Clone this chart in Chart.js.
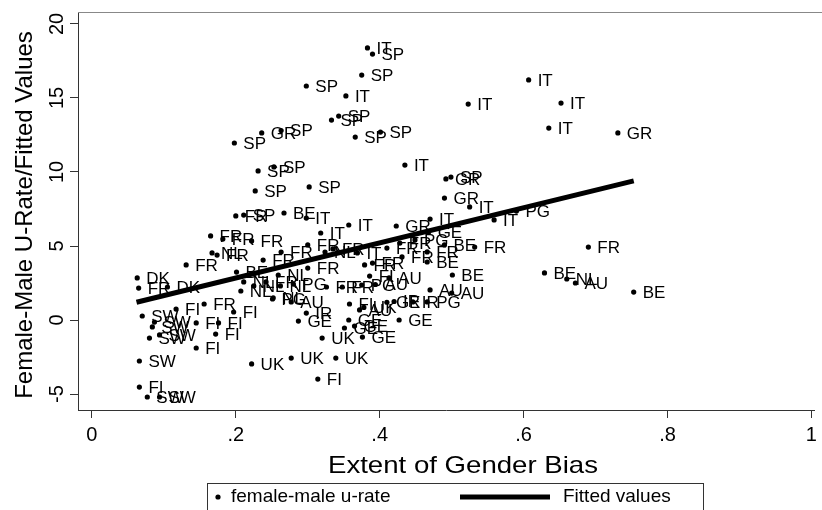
<!DOCTYPE html>
<html>
<head>
<meta charset="utf-8">
<script src="https://cdn.jsdelivr.net/npm/chart.js@4.4.1/dist/chart.umd.min.js"></script>
<style>
  html, body { margin: 0; padding: 0; background: #fff; }
  #wrap { width: 822px; height: 510px; }
</style>
</head>
<body>
<div id="wrap"><canvas id="biasChart" width="822" height="510"></canvas></div>
<script>
// one entry per country-period observation
const countries = [
  'IT','SP','SP','SP','IT','IT','IT','IT','IT','GR',
  'SP','SP','SP','SP','GR','SP','SP','IT','SP','SP',
  'SP','SP','GR','SP','GR','IT','PG','IT','FR','SP',
  'BE','IT','IT','IT','GR','IT','BE','FR','FR','BE',
  'BE','NL','AU','BE','AU','AU','FR','FR','FR','NL',
  'FR','FR','DK','FR','DK','BE','SW','FI','FR','FI',
  'SW','SW','SW','SW','FI','FI','FI','FI','SW','FI',
  'SW','SW','UK','UK','UK','FI','UK','GE','GE','GE',
  'GE','GE','GE','IR','PG','AU','FR','FR','FR','NL',
  'FR','FI','AU','FR','FR','PG','AU','FI','AU','UK',
  'IR','PG','PG','GE','FR','FR','FR','BE','FR','FR',
  'FR','IT','NL','FR','NL','NL','NL','FR','NL','NL',
  'PG','GE','IR'
];
const genderBias = [
  0.383, 0.390, 0.375, 0.298, 0.353, 0.523, 0.607, 0.652, 0.635, 0.731,
  0.333, 0.343, 0.366, 0.401, 0.236, 0.263, 0.198, 0.435, 0.231, 0.253,
  0.227, 0.302, 0.492, 0.499, 0.490, 0.525, 0.590, 0.559, 0.200, 0.211,
  0.267, 0.298, 0.318, 0.357, 0.423, 0.470, 0.490, 0.532, 0.690, 0.501,
  0.629, 0.660, 0.672, 0.753, 0.500, 0.470, 0.165, 0.182, 0.222, 0.167,
  0.174, 0.131, 0.063, 0.065, 0.105, 0.201, 0.070, 0.117, 0.156, 0.197,
  0.084, 0.080, 0.094, 0.087, 0.145, 0.176, 0.172, 0.145, 0.066, 0.066,
  0.077, 0.094, 0.222, 0.277, 0.339, 0.314, 0.320, 0.376, 0.287, 0.357,
  0.351, 0.365, 0.427, 0.298, 0.251, 0.277, 0.263, 0.238, 0.300, 0.259,
  0.300, 0.386, 0.413, 0.326, 0.348, 0.375, 0.394, 0.358, 0.372, 0.378,
  0.446, 0.466, 0.449, 0.468, 0.410, 0.428, 0.431, 0.466, 0.466, 0.379,
  0.390, 0.369, 0.324, 0.335, 0.207, 0.211, 0.225, 0.242, 0.252, 0.262,
  0.280, 0.410, 0.420
];
const uRateGap = [
  18.38, 17.97, 16.55, 15.81, 15.14, 14.59, 16.22, 14.66, 12.97, 12.64,
  13.51, 13.78, 12.36, 12.70, 12.64, 12.80, 11.96, 10.47, 10.07, 10.34,
  8.72, 8.99, 9.53, 9.66, 8.24, 7.64, 7.36, 6.76, 7.03, 7.09,
  7.23, 6.89, 5.88, 6.42, 6.35, 6.82, 5.07, 4.93, 4.93, 3.04,
  3.18, 2.77, 2.50, 1.89, 1.82, 2.03, 5.68, 5.47, 5.34, 4.53,
  4.39, 3.72, 2.84, 2.16, 2.23, 3.24, 0.27, 0.74, 1.08, 0.54,
  -0.47, -1.22, -1.01, -0.14, -0.20, -0.20, -0.95, -1.89, -2.77, -4.53,
  -5.20, -5.20, -2.97, -2.57, -2.57, -3.99, -1.22, -1.15, -0.07, 0.00,
  -0.54, -0.41, 0.00, 0.47, 1.42, 1.22, 4.59, 4.05, 5.07, 3.04,
  3.51, 2.97, 2.84, 2.23, 2.23, 2.36, 2.40, 1.08, 0.68, 0.85,
  1.22, 1.22, 5.41, 5.95, 4.86, 5.20, 4.26, 3.92, 4.60, 3.72,
  3.85, 4.53, 4.59, 4.80, 1.96, 2.57, 2.30, 2.57, 1.49, 2.30,
  2.43, 1.20, 1.25
];
// fitted line, read at its two ends
const fitBias = [0.062, 0.753];
const fitValues = [1.2, 9.4];

const xTicks = [0, 0.2, 0.4, 0.6, 0.8, 1];
const yTicks = [-5, 0, 5, 10, 15, 20];

const FONT = '"Liberation Sans", Arial, Helvetica, sans-serif';

const pointLabels = {
  id: 'pointLabels',
  afterDatasetDraw(chart, args) {
    if (args.index !== 1) return;
    const ctx = chart.ctx;
    ctx.save();
    ctx.font = '17px ' + FONT;
    ctx.fillStyle = '#000';
    ctx.textBaseline = 'middle';
    args.meta.data.forEach((pt, i) => {
      ctx.fillText(countries[i], pt.x + 9, pt.y + 1);
    });
    ctx.restore();
  }
};

const frameExtras = {
  id: 'frameExtras',
  afterDraw(chart) {
    const ctx = chart.ctx;
    const yScale = chart.scales.y;
    const area = chart.chartArea;
    ctx.save();
    ctx.fillStyle = '#000';
    // rotated y tick labels, Stata style
    ctx.font = '20px ' + FONT;
    ctx.textAlign = 'center';
    ctx.textBaseline = 'middle';
    yTicks.forEach(v => {
      ctx.save();
      ctx.translate(57, yScale.getPixelForValue(v));
      ctx.rotate(-Math.PI / 2);
      ctx.fillText(String(v), 0, 0);
      ctx.restore();
    });
    // axis titles (x title a little wider, as in the picture)
    ctx.font = '24px ' + FONT;
    ctx.save();
    ctx.translate(463, 466);
    ctx.scale(1.15, 1);
    ctx.fillText('Extent of Gender Bias', 0, 0);
    ctx.restore();
    ctx.save();
    ctx.translate(25, 215);
    ctx.rotate(-Math.PI / 2);
    ctx.fillText('Female-Male U-Rate/Fitted Values', 0, 0);
    ctx.restore();
    // top border of plot region
    ctx.strokeStyle = '#888';
    ctx.lineWidth = 1;
    ctx.beginPath();
    ctx.moveTo(area.left, area.top + 0.5);
    ctx.lineTo(chart.width, area.top + 0.5);
    ctx.stroke();
    // legend
    ctx.strokeStyle = '#333';
    ctx.strokeRect(207.5, 483.5, 496, 30);
    ctx.beginPath();
    ctx.arc(218, 497, 2.6, 0, Math.PI * 2);
    ctx.fill();
    ctx.font = '19px ' + FONT;
    ctx.textAlign = 'left';
    ctx.fillText('female-male u-rate', 231, 497);
    ctx.lineWidth = 5;
    ctx.strokeStyle = '#000';
    ctx.beginPath();
    ctx.moveTo(460, 497);
    ctx.lineTo(550, 497);
    ctx.stroke();
    ctx.fillText('Fitted values', 563, 497);
    ctx.restore();
  }
};

const points = genderBias.map((x, i) => ({ x: x, y: uRateGap[i] }));
const fitted = fitBias.map((x, i) => ({ x: x, y: fitValues[i] }));

new Chart(document.getElementById('biasChart'), {
  type: 'scatter',
  data: {
    datasets: [
      {
        label: 'Fitted values',
        type: 'line',
        data: fitted,
        borderColor: '#000',
        borderWidth: 5,
        pointRadius: 0,
        fill: false,
        order: 0
      },
      {
        label: 'female-male u-rate',
        data: points,
        backgroundColor: '#000',
        borderColor: '#000',
        pointRadius: 2.6,
        borderWidth: 0,
        order: 1
      }
    ]
  },
  options: {
    responsive: false,
    animation: false,
    layout: { padding: { top: 12, right: 1, left: 0, bottom: 0 } },
    plugins: { legend: { display: false }, tooltip: { enabled: false } },
    scales: {
      x: {
        type: 'linear',
        min: -0.0193,
        max: 1.0041,
        afterFit(scale) { scale.height = 100; },
        afterBuildTicks(scale) { scale.ticks = xTicks.map(v => ({ value: v })); },
        grid: { drawOnChartArea: false, drawTicks: true, tickLength: 8, color: '#333' },
        border: { display: true, color: '#333', width: 1 },
        ticks: {
          color: '#000',
          font: { family: FONT, size: 20 },
          padding: 5,
          maxRotation: 0,
          callback: v => (v === 0 || v === 1) ? String(v) : String(v).replace('0.', '.')
        }
      },
      y: {
        type: 'linear',
        min: -6.08,
        max: 20.81,
        afterFit(scale) { scale.width = 78; },
        afterBuildTicks(scale) { scale.ticks = yTicks.map(v => ({ value: v })); },
        grid: { drawOnChartArea: false, drawTicks: true, tickLength: 8, color: '#333' },
        border: { display: true, color: '#333', width: 1 },
        ticks: { display: false }
      }
    }
  },
  plugins: [pointLabels, frameExtras]
});
</script>
</body>
</html>
